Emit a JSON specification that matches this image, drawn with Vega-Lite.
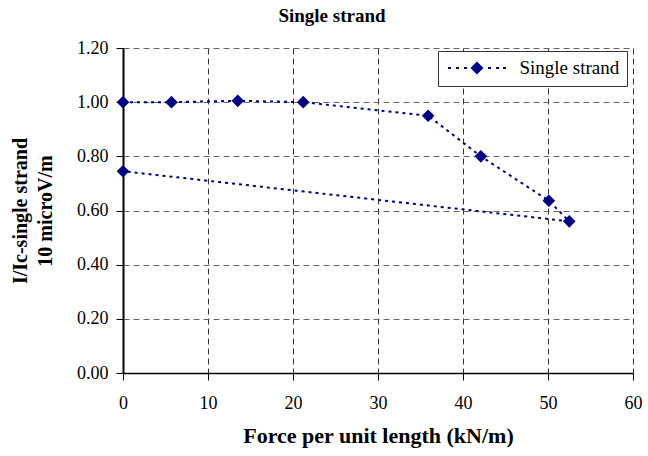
{
  "$schema": "https://vega.github.io/schema/vega-lite/v6.json",
  "autosize": "none",
  "width": 510,
  "height": 325,
  "padding": {"left": 123, "top": 48, "right": 15, "bottom": 83},
  "background": "white",
  "title": {
    "text": "Single strand",
    "font": "Liberation Serif",
    "fontSize": 19,
    "fontWeight": "bold",
    "color": "black",
    "anchor": "middle",
    "frame": "group",
    "dx": -46,
    "offset": 13
  },
  "config": {
    "view": {"stroke": null},
    "axis": {
      "labelFont": "Liberation Serif",
      "labelFontSize": 18,
      "labelColor": "black",
      "titleFont": "Liberation Serif",
      "titleFontWeight": "bold",
      "titleColor": "black",
      "domainColor": "black",
      "tickColor": "black",
      "tickSize": 7,
      "gridDash": [6, 4],
      "gridWidth": 1
    }
  },
  "data": {
    "values": [
      {"order": 1, "force": 0, "ratio": 1.0, "series": "Single strand"},
      {"order": 2, "force": 5.7, "ratio": 1.0, "series": "Single strand"},
      {"order": 3, "force": 13.5, "ratio": 1.005, "series": "Single strand"},
      {"order": 4, "force": 21.2, "ratio": 1.0, "series": "Single strand"},
      {"order": 5, "force": 35.9, "ratio": 0.95, "series": "Single strand"},
      {"order": 6, "force": 42.1, "ratio": 0.8, "series": "Single strand"},
      {"order": 7, "force": 50.1, "ratio": 0.636, "series": "Single strand"},
      {"order": 8, "force": 52.5, "ratio": 0.56, "series": "Single strand"},
      {"order": 9, "force": 0, "ratio": 0.745, "series": "Single strand"}
    ]
  },
  "encoding": {
    "x": {
      "field": "force",
      "type": "quantitative",
      "scale": {"domain": [0, 60], "nice": false, "zero": false},
      "axis": {
        "title": "Force per unit length (kN/m)",
        "titleFontSize": 22,
        "titlePadding": 13,
        "values": [0, 10, 20, 30, 40, 50, 60],
        "format": "d",
        "labelPadding": 14,
        "domainWidth": 1.5,
        "gridColor": "#333333",
        "labelFlush": false
      }
    },
    "y": {
      "field": "ratio",
      "type": "quantitative",
      "scale": {"domain": [0, 1.2], "nice": false},
      "axis": {
        "title": ["I/Ic-single strand", "10 microV/m"],
        "titleFontSize": 20,
        "titleLineHeight": 25,
        "titlePadding": 21,
        "values": [0, 0.2, 0.4, 0.6, 0.8, 1.0, 1.2],
        "format": ".2f",
        "labelPadding": 8,
        "domainWidth": 2,
        "gridColor": "#666666",
        "labelFlush": false
      }
    }
  },
  "layer": [
    {
      "mark": {"type": "line", "color": "#000080", "strokeWidth": 2, "strokeDash": [3, 4]},
      "encoding": {"order": {"field": "order", "type": "quantitative"}}
    },
    {
      "mark": {"type": "point", "shape": "diamond", "filled": true, "opacity": 1, "size": 160},
      "encoding": {
        "color": {
          "field": "series",
          "type": "nominal",
          "scale": {"range": ["#000080"]},
          "legend": {
            "title": null,
            "orient": "none",
            "legendX": 315,
            "legendY": 3,
            "padding": 7.5,
            "strokeColor": "#333333",
            "fillColor": "white",
            "labelFont": "Liberation Serif",
            "labelFontSize": 19,
            "labelColor": "black",
            "labelOffset": 55,
            "symbolSize": 196,
            "symbolStrokeWidth": 0,
            "symbolType": "M-1,-0.15h0.43v0.3h-0.43z M0.14,-0.15h0.43v0.3h-0.43z M1.29,-0.15h0.43v0.3h-0.43z M4.71,-0.15h0.43v0.3h-0.43z M5.86,-0.15h0.43v0.3h-0.43z M6.86,-0.15h0.43v0.3h-0.43z M3.14,-0.93L4.07,0L3.14,0.93L2.21,0z"
          }
        }
      }
    }
  ]
}
